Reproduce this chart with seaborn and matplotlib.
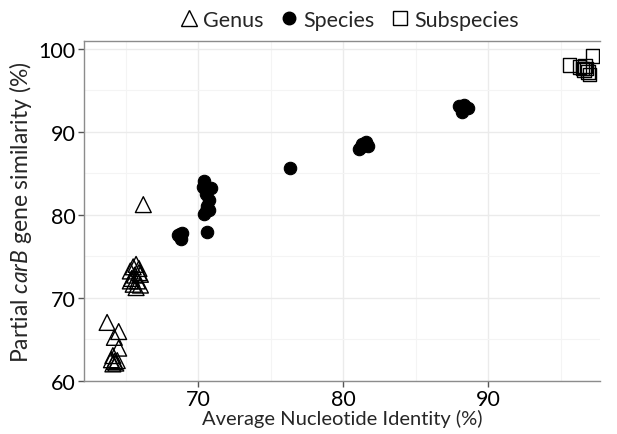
import matplotlib
matplotlib.use('Agg')
import matplotlib.pyplot as plt
import seaborn as sns
import pandas as pd
from matplotlib.lines import Line2D

# ANI vs partial carB similarity, per taxonomic level
genus_ani = [63.7, 64.5, 64.2, 64.5, 64.1, 64.0, 64.2, 64.3, 64.1, 64.4,
             65.3, 65.5, 65.7, 65.9, 66.0, 65.4, 65.6, 65.8, 65.5, 66.0, 65.7, 65.9, 65.3,
             66.2]
genus_sim = [67.0, 65.9, 65.2, 63.9, 63.0, 62.5, 62.3, 62.1, 62.0, 62.4,
             73.2, 73.7, 74.0, 73.5, 72.8, 72.3, 72.7, 72.0, 71.6, 71.5, 71.2, 73.0, 72.0,
             81.2]

species_ani = [68.7, 68.9, 68.8, 68.6, 70.6,
               70.4, 70.3, 70.9, 70.5, 70.7, 70.6, 70.5, 70.4, 70.7,
               76.3, 81.1, 81.3, 81.6, 81.7, 81.2,
               88.0, 88.3, 88.6, 88.2]
species_sim = [77.7, 77.8, 77.1, 77.5, 77.9,
               84.1, 83.3, 83.2, 82.5, 81.7, 81.0, 80.4, 80.1, 80.6,
               85.6, 87.9, 88.5, 88.8, 88.3, 88.2,
               93.1, 93.2, 92.9, 92.4]

subsp_ani = [95.6, 97.2, 96.3, 96.5, 96.6, 96.8, 96.9, 97.0, 96.7]
subsp_sim = [98.0, 99.1, 97.8, 97.6, 97.4, 97.6, 97.2, 96.9, 97.9]

sns.set_theme(style='whitegrid')
plt.rcParams['font.family'] = ['Lato', 'DejaVu Sans']
plt.rcParams['mathtext.fontset'] = 'custom'
plt.rcParams['mathtext.it'] = 'Lato:italic'
plt.rcParams['mathtext.rm'] = 'Lato'

genus = pd.DataFrame({'ani': genus_ani, 'sim': genus_sim})
species = pd.DataFrame({'ani': species_ani, 'sim': species_sim})
subsp = pd.DataFrame({'ani': subsp_ani, 'sim': subsp_sim})

fig = plt.figure(figsize=(6.17, 4.35), dpi=100)
ax = fig.add_axes([0.136, 0.122, 0.836, 0.781])

sns.scatterplot(data=genus, x='ani', y='sim', marker='^', s=130,
                facecolor='none', edgecolor='black', linewidth=1.0, ax=ax, zorder=3)
sns.scatterplot(data=species, x='ani', y='sim', marker='o', s=80,
                color='black', edgecolor='black', linewidth=0.8, ax=ax, zorder=3)
sns.scatterplot(data=subsp, x='ani', y='sim', marker='s', s=95,
                facecolor='none', edgecolor='black', linewidth=1.0, ax=ax, zorder=3)

ax.set_xlim(62.1, 97.7)
ax.set_ylim(59.95, 100.9)
ax.set_xticks([70, 80, 90])
ax.set_yticks([60, 70, 80, 90, 100])
ax.set_xticks([65, 75, 85, 95], minor=True)
ax.set_yticks([65, 75, 85, 95], minor=True)
ax.grid(which='major', color='#ebebeb', linewidth=1.0)
ax.grid(which='minor', color='#f4f4f4', linewidth=0.8)
ax.set_axisbelow(True)

for side in ['left', 'bottom', 'top']:
    ax.spines[side].set_visible(True)
    ax.spines[side].set_color('#8c8c8c')
    ax.spines[side].set_linewidth(1.0)
ax.spines['right'].set_visible(False)

ax.tick_params(axis='both', which='major', length=4, width=1, color='#555555',
               labelsize=15.5, labelcolor='black', pad=2, bottom=True, left=True)
ax.tick_params(axis='both', which='minor', length=0)

ax.set_xlabel('Average Nucleotide Identity (%)', fontsize=14.5, labelpad=0)
ax.set_ylabel(r'Partial $\it{carB}$ gene similarity (%)', fontsize=16.5, labelpad=3)

handles = [
    Line2D([], [], marker='^', linestyle='none', markersize=12,
           markerfacecolor='none', markeredgecolor='black', markeredgewidth=1.0),
    Line2D([], [], marker='o', linestyle='none', markersize=9,
           markerfacecolor='black', markeredgecolor='black'),
    Line2D([], [], marker='s', linestyle='none', markersize=10,
           markerfacecolor='none', markeredgecolor='black', markeredgewidth=1.0),
]
fig.legend(handles, ['Genus', 'Species', 'Subspecies'], loc='center',
           bbox_to_anchor=(0.563, 0.952), ncol=3, frameon=False, fontsize=15.5,
           handletextpad=0.05, columnspacing=0.6, handlelength=1.2)

fig.savefig('out.png', dpi=100)
